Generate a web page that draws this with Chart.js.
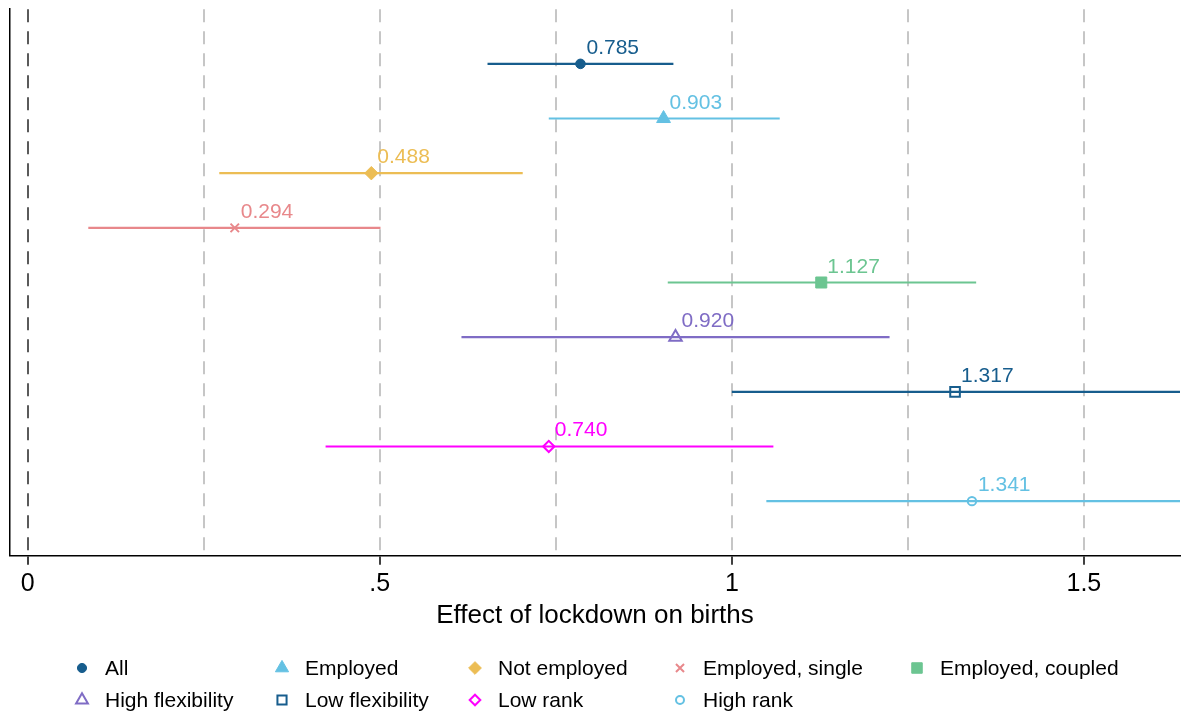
<!DOCTYPE html>
<html>
<head>
<meta charset="utf-8">
<script src="https://cdn.jsdelivr.net/npm/chart.js@4/dist/chart.umd.min.js"></script>
<style>
  body { margin: 0; background: #fff; }
  #wrap { width: 1190px; height: 715px; position: relative; }
</style>
</head>
<body>
<div id="wrap"><canvas id="chart"></canvas></div>
<script>
// estimates and 95% CIs, one row per group (top to bottom)
const groups = ["All", "Employed", "Not employed", "Employed, single", "Employed, coupled",
  "High flexibility", "Low flexibility", "Low rank", "High rank"];
const estimates = [0.785, 0.903, 0.488, 0.294, 1.127, 0.920, 1.317, 0.740, 1.341];
const ciLow = [0.653, 0.740, 0.272, 0.086, 0.909, 0.616, 1.000, 0.423, 1.049];
const ciHigh = [0.917, 1.068, 0.703, 0.501, 1.347, 1.224, 1.700, 1.059, 1.700];
const xTicks = [0, 0.25, 0.5, 0.75, 1, 1.25, 1.5];

// marker styles
const colors = ["#175d8d", "#64c1e3", "#ecbd54", "#e8888b", "#6cc591",
  "#7f6cc5", "#175d8d", "#ff00ff", "#64c1e3"];
const pointStyles = ["circle", "triangle", "rectRot", "crossRot", "rect",
  "triangle", "rect", "rectRot", "circle"];
const filled = [true, true, true, false, true, false, false, false, false];
const radii = [4.8, 8, 6.7, 6, 7.8, 7.2, 6.8, 5.6, 4.2];

const FONT = "'Liberation Sans', Arial, Helvetica, sans-serif";
Chart.defaults.font.family = FONT;
Chart.defaults.color = "#000";

const pointSets = groups.map((g, i) => ({
  label: g,
  data: [{ x: estimates[i], y: i + 1 }],
  pointStyle: pointStyles[i],
  pointRadius: radii[i],
  pointBackgroundColor: filled[i] ? colors[i] : "rgba(0,0,0,0)",
  pointBorderColor: colors[i],
  pointBorderWidth: filled[i] ? 1 : 2,
  order: 0,
}));

const ciSets = groups.map((g, i) => ({
  label: g + " CI",
  data: [{ x: ciLow[i], y: i + 1 }, { x: ciHigh[i], y: i + 1 }],
  showLine: true,
  borderColor: colors[i],
  borderWidth: 2.2,
  pointRadius: 0,
  order: 1,
}));

// value labels above-right of each estimate
const valueLabels = {
  id: "valueLabels",
  afterDatasetsDraw(chart) {
    const { ctx, scales: { x, y } } = chart;
    ctx.save();
    ctx.font = "21px " + FONT;
    ctx.textBaseline = "alphabetic";
    estimates.forEach((v, i) => {
      ctx.fillStyle = colors[i];
      ctx.fillText(v.toFixed(3), x.getPixelForValue(v) + 6, y.getPixelForValue(i + 1) - 10);
    });
    ctx.restore();
  },
};

// legend in a fixed 5-column grid, like the original
const legendCols = [82, 282, 475, 680, 917];
const legendRows = [668, 700];
const gridLegend = {
  id: "gridLegend",
  afterDraw(chart) {
    const ctx = chart.ctx;
    groups.forEach((name, i) => {
      const x = legendCols[i % 5];
      const y = legendRows[Math.floor(i / 5)];
      ctx.save();
      ctx.fillStyle = filled[i] ? colors[i] : "rgba(0,0,0,0)";
      ctx.strokeStyle = colors[i];
      ctx.lineWidth = filled[i] ? 1 : 2;
      Chart.helpers.drawPoint(ctx, {
        pointStyle: pointStyles[i],
        radius: radii[i] * 0.95,
        borderWidth: filled[i] ? 1 : 2,
        rotation: 0,
      }, x, y);
      ctx.fillStyle = "#000";
      ctx.font = "21px " + FONT;
      ctx.textBaseline = "middle";
      ctx.fillText(name, x + 23, y + 1);
      ctx.restore();
    });
  },
};

new Chart(document.getElementById("chart"), {
  type: "scatter",
  data: { datasets: [...pointSets, ...ciSets] },
  options: {
    responsive: true,
    maintainAspectRatio: false,
    animation: false,
    events: [],
    layout: { padding: { left: 10, right: 10, top: 7, bottom: 84 } },
    plugins: {
      legend: { display: false },
      tooltip: { enabled: false },
    },
    scales: {
      x: {
        type: "linear",
        min: -0.0252,
        max: 1.6365,
        afterBuildTicks: (scale) => {
          scale.ticks = xTicks.map((v) => ({ value: v }));
        },
        ticks: {
          autoSkip: false,
          maxRotation: 0,
          padding: 4,
          font: { size: 25, lineHeight: 1.2 },
          callback: (v) => (v % 0.5 === 0 ? String(v).replace(/^0\./, ".") : ""),
        },
        grid: {
          color: (c) => (c.tick && c.tick.value === 0 ? "#5a5a5a" : "#c6c6c6"),
          lineWidth: 2,
          drawTicks: true,
          tickLength: 9,
          tickWidth: 1.5,
          tickColor: (c) => (c.tick && c.tick.value % 0.5 === 0 ? "#000" : "rgba(0,0,0,0)"),
        },
        border: { display: true, color: "#000", width: 1.5, dash: [13, 9] },
        title: {
          display: true,
          text: "Effect of lockdown on births",
          font: { size: 26, lineHeight: 1.2 },
          padding: { top: -3, bottom: 0 },
        },
      },
      y: {
        type: "linear",
        reverse: true,
        min: 0,
        max: 10,
        ticks: { display: false },
        grid: { display: false, drawTicks: false },
        border: { display: true, color: "#000", width: 1.5 },
      },
    },
  },
  plugins: [valueLabels, gridLegend],
});
</script>
</body>
</html>
